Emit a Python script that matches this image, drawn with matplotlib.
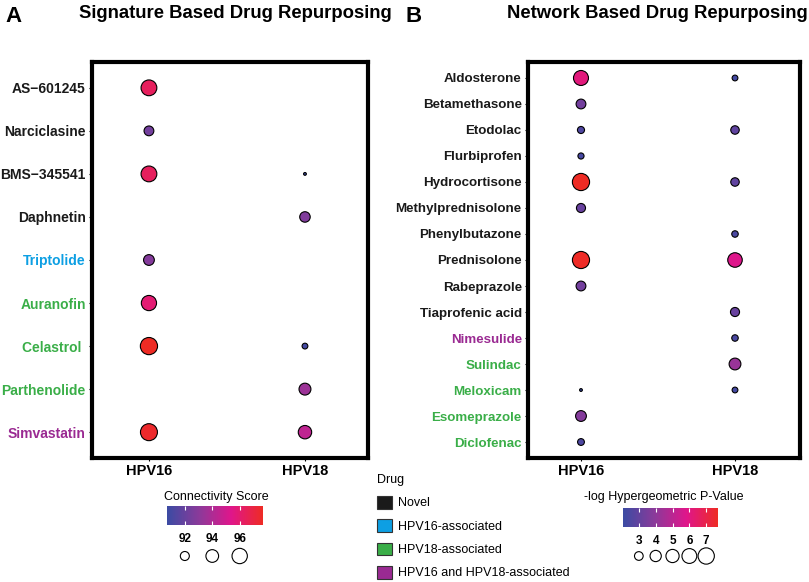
import numpy as np
import matplotlib
matplotlib.use("Agg")
import matplotlib.pyplot as plt
from matplotlib.colors import LinearSegmentedColormap, Normalize
from matplotlib.cm import ScalarMappable
from matplotlib.patches import Patch

plt.rcParams['font.family'] = ['Liberation Sans', 'DejaVu Sans']

# -------------------------------
# data
# -------------------------------
columns = ["HPV16", "HPV18"]

drugs_a = ["AS\u2212601245", "Narciclasine", "BMS\u2212345541", "Daphnetin", "Triptolide",
           "Auranofin", "Celastrol ", "Parthenolide", "Simvastatin"]
group_a = ["novel", "novel", "novel", "novel", "hpv16",
           "hpv18", "hpv18", "hpv18", "both"]
score16_a = [96.4, 92.35, 96.4, np.nan, 92.85, 95.9, 97.7, np.nan, 97.5]
score18_a = [np.nan, np.nan, 90.7, 92.7, np.nan, np.nan, 91.0, 93.5, 94.5]
ticks_a = [92, 94, 96]
range_a = (90.7, 97.7)

drugs_b = ["Aldosterone", "Betamethasone", "Etodolac", "Flurbiprofen", "Hydrocortisone",
           "Methylprednisolone", "Phenylbutazone", "Prednisolone", "Rabeprazole",
           "Tiaprofenic acid", "Nimesulide", "Sulindac", "Meloxicam", "Esomeprazole",
           "Diclofenac"]
group_b = ["novel"] * 10 + ["both", "hpv18", "hpv18", "hpv18", "hpv18"]
logp16_b = [6.1, 3.39, 2.56, 2.36, 7.7, 3.13, np.nan, 7.65, 3.39,
            np.nan, np.nan, np.nan, 2.06, 3.8, 2.5]
logp18_b = [2.3, np.nan, 2.94, np.nan, 2.94, np.nan, 2.43, 5.8, np.nan,
            3.13, 2.43, 4.26, 2.3, np.nan, np.nan]
ticks_b = [3, 4, 5, 6, 7]
range_b = (2.06, 7.7)

group_colors = {"novel": "#1a1a1a", "hpv16": "#0d9fe3",
                "hpv18": "#3aae48", "both": "#9a2a92"}
group_names = {"novel": "Novel", "hpv16": "HPV16-associated",
               "hpv18": "HPV18-associated", "both": "HPV16 and HPV18-associated"}

cmap = LinearSegmentedColormap.from_list(
    "grad", [(0, "#3b4ba3"), (1 / 3, "#8b3a9a"), (2 / 3, "#df168b"), (1, "#ee2b24")])


def dot_size(v, lo, hi):
    # ggplot-like area scale: diameter grows with sqrt of the rescaled value
    t = np.clip((np.asarray(v, float) - lo) / (hi - lo), 0, 1)
    d_px = 2.8 + 14.4 * np.sqrt(t)
    return (d_px * 0.72) ** 2


def dot_panel(ax, drugs, groups, col16, col18, lo, hi, ylab_size):
    norm = Normalize(lo, hi)
    n = len(drugs)
    ypos = np.arange(n)
    for xi, vals in enumerate([col16, col18]):
        vals = np.asarray(vals, float)
        ok = ~np.isnan(vals)
        ax.scatter(np.full(ok.sum(), xi), ypos[ok], s=dot_size(vals[ok], lo, hi),
                   c=cmap(norm(vals[ok])), edgecolors="black", linewidths=0.8, zorder=3)
    ax.set_yticks(ypos)
    ax.set_yticklabels(drugs, fontsize=ylab_size, fontweight="bold")
    for lab, g in zip(ax.get_yticklabels(), groups):
        lab.set_color(group_colors[g])
    ax.set_xticks([0, 1])
    ax.set_xticklabels(columns, fontsize=10.5, fontweight="bold")
    for sp in ax.spines.values():
        sp.set_linewidth(3)
    ax.tick_params(axis="both", length=2.5, width=0.8, pad=2)


def gradient_legend(title, ticks, lo, hi, x0, x1, title_x, title_y, bar_y0, bar_y1, circ_y):
    W, H = 809, 582
    cax = fig.add_axes([x0 / W, 1 - bar_y1 / H, (x1 - x0) / W, (bar_y1 - bar_y0) / H])
    cb = fig.colorbar(ScalarMappable(Normalize(lo, hi), cmap), cax=cax,
                      orientation="horizontal", ticks=ticks)
    cb.outline.set_visible(False)
    cax.tick_params(axis="x", direction="in", colors="white", length=3, width=0.8,
                    top=True, bottom=True, labelsize=8.5, pad=6)
    for lab in cax.get_xticklabels():
        lab.set_color("black")
        lab.set_fontweight("bold")
    fig.text(title_x / W, 1 - title_y / H, title, ha="center", va="center", fontsize=9)
    sax = fig.add_axes([x0 / W, 1 - (circ_y + 10) / H, (x1 - x0) / W, 20 / H])
    sax.scatter(ticks, np.zeros(len(ticks)), s=dot_size(ticks, lo, hi),
                facecolors="white", edgecolors="black", linewidths=0.8)
    sax.set_xlim(lo, hi)
    sax.set_ylim(-1, 1)
    sax.axis("off")


fig = plt.figure(figsize=(8.09, 5.82), dpi=100)

ax_a = fig.add_axes([92 / 809, 1 - 458 / 582, 276 / 809, 396 / 582])
dot_panel(ax_a, drugs_a, group_a, score16_a, score18_a, *range_a, ylab_size=10)
ax_a.set_xlim(-0.365, 1.404)
ax_a.set_ylim(len(drugs_a) - 0.4, -0.6)

ax_b = fig.add_axes([528 / 809, 1 - 458 / 582, 272 / 809, 396 / 582])
dot_panel(ax_b, drugs_b, group_b, logp16_b, logp18_b, *range_b, ylab_size=9.6)
ax_b.set_xlim(-0.344, 1.422)
ax_b.set_ylim(len(drugs_b) - 0.385, -0.615)

fig.text(5 / 809, 1 - 16 / 582, "A", fontsize=16, fontweight="bold", va="center")
fig.text(235 / 809, 1 - 13 / 582, "Signature Based Drug Repurposing", fontsize=13.3,
         fontweight="bold", ha="center", va="center")
fig.text(406 / 809, 1 - 16 / 582, "B", fontsize=16, fontweight="bold", va="center")
fig.text(657 / 809, 1 - 13 / 582, "Network Based Drug Repurposing", fontsize=13.3,
         fontweight="bold", ha="center", va="center")

gradient_legend("Connectivity Score", ticks_a, *range_a, 167, 263, 216, 497, 506, 525, 556)
gradient_legend("-log Hypergeometric P-Value", ticks_b, *range_b, 623, 718, 664, 497, 508, 527, 556)

handles = [Patch(facecolor=group_colors[g], edgecolor="#333333", linewidth=0.8)
           for g in group_names]
fig.legend(handles, list(group_names.values()), title="Drug", loc="upper left",
           bbox_to_anchor=(377 / 809, 1 - 474 / 582), frameon=False, fontsize=9,
           title_fontsize=9, handlelength=1.2, handleheight=1.2, labelspacing=0.78,
           handletextpad=0.5, borderpad=0, borderaxespad=0, alignment="left")

fig.savefig("out.png", dpi=100)
